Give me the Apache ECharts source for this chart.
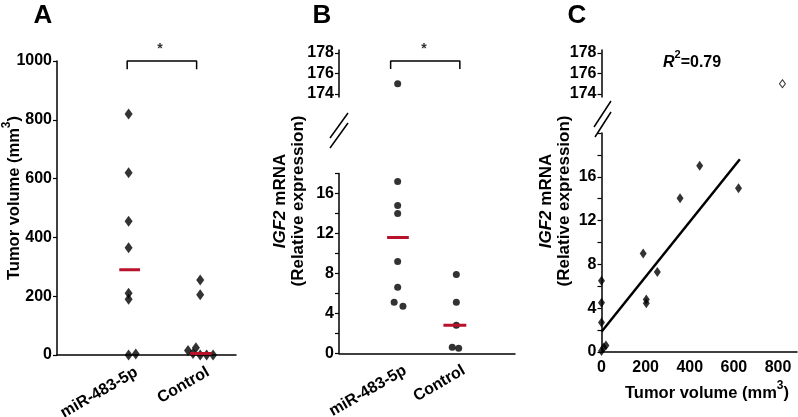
<!DOCTYPE html>
<html><head><meta charset="utf-8">
<script src="https://cdn.jsdelivr.net/npm/echarts@6/dist/echarts.min.js"></script>
<style>html,body{margin:0;padding:0;background:#fff}#c{width:798px;height:417px}</style>
</head><body><div id="c"></div>
<script>
// ---- data ----
const catLabels = ['miR-483-5p', 'Control'];
// Panel A: tumor volume (mm3)
const volMiR = [820, 620, 455, 365, 210, 190, 0, 3];
const volMiRJit = [0, 0, 0, 0, 0, 0, 0, 0.1];
const volCtl = [255, 205, 15, 25, 5, 0, 0, 0];
const volCtlJit = [0, 0, -0.17, -0.06, -0.1, 0, 0.09, 0.18];
const volMedian = [290, 5];
const volTicks = [0, 200, 400, 600, 800, 1000];
// Panel B: IGF2 mRNA relative expression
const igfMiR = [175, 17.2, 14.8, 14.0, 9.2, 6.6, 5.1, 4.7];
const igfMiRJit = [0, 0, 0, 0, 0, 0, -0.06, 0.09];
const igfCtl = [7.9, 5.1, 2.8, 0.6, 0.5];
const igfCtlJit = [0, 0, 0, -0.07, 0.04];
const igfMedian = [11.6, 2.8];
const upperTicks = [174, 176, 178];
const lowerTicksB = [0, 2, 4, 6, 8, 10, 12, 14, 16, 18];
const lowerTicksC = [0, 2, 4, 6, 8, 10, 12, 14, 16, 18, 20];
const lowerLabels = [0, 4, 8, 12, 16];
// Panel C: correlation
const corrVol = [0, 10, 20, 0, 0, 0, 189, 203, 203, 253, 356, 445, 621];
const corrIgf = [0.1, 0.4, 0.6, 2.7, 4.5, 6.5, 9.0, 4.8, 4.45, 7.3, 14.05, 17.0, 14.95];
const outlierVol = [820];
const outlierIgf = [175];
const fitLine = [[0, 1.85], [627, 17.6]];
const volXTicks = [0, 200, 400, 600, 800];
const r2Text = '0.79';

// ---- chart ----
const FF = '"Liberation Sans", Arial, sans-serif';
const RED = '#b8122b';
const BREAK = 170;

function yAx(grid, min, max, ticks, labels) {
  return {
    type: 'value', gridIndex: grid, min: min, max: max,
    axisLine: {show: true, lineStyle: {color: '#000', width: 1.5}},
    axisTick: {show: true, length: 4, customValues: ticks, lineStyle: {color: '#000', width: 1.2}},
    axisLabel: {customValues: labels, formatter: v => String(v), color: '#000', fontSize: 16, fontWeight: 'bold', fontFamily: FF, margin: 5},
    splitLine: {show: false}
  };
}
function xCat(grid, max, shift) {
  return {
    type: 'value', gridIndex: grid, min: 0, max: max,
    axisLine: {show: true, onZero: false, lineStyle: {color: '#000', width: 1.5}},
    axisTick: {show: false},
    axisLabel: {customValues: [1 + shift, 2 + shift], formatter: v => catLabels[Math.round(v) - 1], rotate: 30,
      color: '#000', fontSize: 16, fontWeight: 'bold', fontFamily: FF, margin: 16},
    splitLine: {show: false}
  };
}
function xHidden(grid, max) {
  return {type: 'value', gridIndex: grid, min: 0, max: max, show: false};
}
function pts(vals, jit, center, filterFn) {
  const out = [];
  vals.forEach((v, i) => { if (filterFn(v)) out.push([center + jit[i], v]); });
  return out;
}
const lo = v => v < BREAK, hi = v => v >= BREAK;

const CMAX = 886;

const titleRich = {
  n: {fontSize: 17, fontWeight: 'bold', fontFamily: FF, fill: '#000', lineHeight: 18},
  i: {fontSize: 17, fontWeight: 'bold', fontStyle: 'italic', fontFamily: FF, fill: '#000', lineHeight: 18}
};
const volRich = {
  n: {fontSize: 16.5, fontWeight: 'bold', fontFamily: FF, fill: '#000', lineHeight: 22, verticalAlign: 'bottom'},
  s: {fontSize: 12, fontWeight: 'bold', fontFamily: FF, fill: '#000', verticalAlign: 'top'}
};
const G = {outerBoundsMode: 'none', containLabel: false};

const option = {
  animation: false,
  backgroundColor: '#fff',
  grid: [
    Object.assign({left: 57, top: 61, width: 179, height: 294}, G),        // A
    Object.assign({left: 339, top: 49.9, width: 176, height: 47.2}, G),    // B upper
    Object.assign({left: 339, top: 173.5, width: 176, height: 179.8}, G),  // B lower
    Object.assign({left: 601.5, top: 49.9, width: 195.5, height: 47.2}, G),// C upper
    Object.assign({left: 601.5, top: 133, width: 195.5, height: 219}, G)   // C lower
  ],
  xAxis: [
    xCat(0, 2.5, 0.11),
    xHidden(1, 3),
    xCat(2, 3, 0.13),
    xHidden(3, CMAX),
    {
      type: 'value', gridIndex: 4, min: 0, max: CMAX,
      axisLine: {show: true, onZero: false, lineStyle: {color: '#000', width: 1.5}},
      axisTick: {show: false},
      axisLabel: {customValues: volXTicks, formatter: v => String(v), color: '#000', fontSize: 16, fontWeight: 'bold', fontFamily: FF, margin: 8},
      splitLine: {show: false}
    }
  ],
  yAxis: [
    yAx(0, 0, 1000, volTicks, volTicks),
    yAx(1, 173.7, 178.3, upperTicks, upperTicks),
    yAx(2, 0, 18, lowerTicksB, lowerLabels),
    yAx(3, 173.7, 178.3, upperTicks, upperTicks),
    yAx(4, 0, 20, lowerTicksC, lowerLabels)
  ],
  series: [
    // Panel A
    {type: 'scatter', xAxisIndex: 0, yAxisIndex: 0, symbol: 'diamond', symbolSize: [8, 11],
      itemStyle: {color: '#000'}, data: pts(volMiR, volMiRJit, 1, () => true)},
    {type: 'scatter', xAxisIndex: 0, yAxisIndex: 0, symbol: 'diamond', symbolSize: [8, 11],
      itemStyle: {color: '#000'}, data: pts(volCtl, volCtlJit, 2, () => true)},
    {type: 'line', xAxisIndex: 0, yAxisIndex: 0, symbol: 'none', z: 5, lineStyle: {color: RED, width: 3},
      data: [[0.87, volMedian[0]], [1.16, volMedian[0]]]},
    {type: 'line', xAxisIndex: 0, yAxisIndex: 0, symbol: 'none', z: 5, lineStyle: {color: RED, width: 3},
      data: [[1.86, volMedian[1]], [2.16, volMedian[1]]]},
    {type: 'line', xAxisIndex: 0, yAxisIndex: 0, symbol: 'none', clip: false, lineStyle: {color: '#000', width: 1.5},
      data: [[0.98, 972], [0.98, 1000], [1.95, 1000], [1.95, 972]]},
    // Panel B
    {type: 'scatter', xAxisIndex: 1, yAxisIndex: 1, symbol: 'circle', symbolSize: 7,
      itemStyle: {color: '#000'}, data: pts(igfMiR, igfMiRJit, 1, hi)},
    {type: 'scatter', xAxisIndex: 2, yAxisIndex: 2, symbol: 'circle', symbolSize: 7,
      itemStyle: {color: '#000'}, data: pts(igfMiR, igfMiRJit, 1, lo)},
    {type: 'scatter', xAxisIndex: 2, yAxisIndex: 2, symbol: 'circle', symbolSize: 7,
      itemStyle: {color: '#000'}, data: pts(igfCtl, igfCtlJit, 2, lo)},
    {type: 'line', xAxisIndex: 2, yAxisIndex: 2, symbol: 'none', z: 5, lineStyle: {color: RED, width: 3},
      data: [[0.82, igfMedian[0]], [1.19, igfMedian[0]]]},
    {type: 'line', xAxisIndex: 2, yAxisIndex: 2, symbol: 'none', z: 5, lineStyle: {color: RED, width: 3},
      data: [[1.78, igfMedian[1]], [2.17, igfMedian[1]]]},
    {type: 'line', xAxisIndex: 1, yAxisIndex: 1, symbol: 'none', clip: false, lineStyle: {color: '#000', width: 1.5},
      data: [[0.88, 176.44], [0.88, 177.22], [2.06, 177.22], [2.06, 176.44]]},
    // Panel C
    {type: 'scatter', xAxisIndex: 4, yAxisIndex: 4, symbol: 'diamond', symbolSize: [7, 10],
      itemStyle: {color: '#000'}, data: corrVol.map((v, i) => [v, corrIgf[i]])},
    {type: 'line', xAxisIndex: 4, yAxisIndex: 4, symbol: 'none', lineStyle: {color: '#000', width: 2.5},
      data: fitLine},
    {type: 'scatter', xAxisIndex: 3, yAxisIndex: 3, symbol: 'diamond', symbolSize: [6, 8],
      itemStyle: {color: '#fff', borderColor: '#000', borderWidth: 1},
      data: outlierVol.map((v, i) => [v, outlierIgf[i]])}
  ],
  graphic: [
    {type: 'text', x: 43, y: 16, style: {text: 'A', font: 'bold 26px ' + FF, fill: '#000', align: 'center', verticalAlign: 'middle'}},
    {type: 'text', x: 322, y: 16, style: {text: 'B', font: 'bold 26px ' + FF, fill: '#000', align: 'center', verticalAlign: 'middle'}},
    {type: 'text', x: 577, y: 16, style: {text: 'C', font: 'bold 26px ' + FF, fill: '#000', align: 'center', verticalAlign: 'middle'}},
    {type: 'text', x: 160, y: 49, style: {text: '*', font: 'bold 14px ' + FF, fill: '#333', align: 'center', verticalAlign: 'middle'}},
    {type: 'text', x: 424, y: 49, style: {text: '*', font: 'bold 14px ' + FF, fill: '#333', align: 'center', verticalAlign: 'middle'}},
    // axis titles
    {type: 'text', x: 12, y: 198, rotation: Math.PI / 2, style: {
      text: '{n|Tumor volume (mm}{s|3}{n|)}', align: 'center', verticalAlign: 'middle', rich: volRich}},
    {type: 'text', x: 289, y: 201, rotation: Math.PI / 2, style: {
      text: '{i|IGF2}{n| mRNA}\n{n|(Relative expression)}', align: 'center', verticalAlign: 'middle', rich: titleRich}},
    {type: 'text', x: 555, y: 201, rotation: Math.PI / 2, style: {
      text: '{i|IGF2}{n| mRNA}\n{n|(Relative expression)}', align: 'center', verticalAlign: 'middle', rich: titleRich}},
    {type: 'text', x: 707, y: 391, style: {
      text: '{n|Tumor volume (mm}{s|3}{n|)}', align: 'center', verticalAlign: 'middle', rich: volRich}},
    {type: 'text', x: 663, y: 60, style: {
      text: '{i|R}{s|2}{n|=' + r2Text + '}', align: 'left', verticalAlign: 'middle',
      rich: {n: {fontSize: 16, fontWeight: 'bold', fontFamily: FF, fill: '#000', lineHeight: 22, verticalAlign: 'bottom'},
             i: {fontSize: 16, fontWeight: 'bold', fontStyle: 'italic', fontFamily: FF, fill: '#000', lineHeight: 22, verticalAlign: 'bottom'},
             s: {fontSize: 11, fontWeight: 'bold', fontFamily: FF, fill: '#000', verticalAlign: 'top'}}}},
    // axis break marks
    {type: 'line', shape: {x1: 348, y1: 113, x2: 330, y2: 138}, style: {stroke: '#000', lineWidth: 1.5}},
    {type: 'line', shape: {x1: 348, y1: 123, x2: 330, y2: 148}, style: {stroke: '#000', lineWidth: 1.5}},
    {type: 'line', shape: {x1: 611, y1: 101, x2: 594, y2: 127}, style: {stroke: '#000', lineWidth: 1.5}},
    {type: 'line', shape: {x1: 611, y1: 112, x2: 595, y2: 137}, style: {stroke: '#000', lineWidth: 1.5}}
  ]
};
const chart = echarts.init(document.getElementById('c'));
chart.setOption(option);
</script></body></html>
